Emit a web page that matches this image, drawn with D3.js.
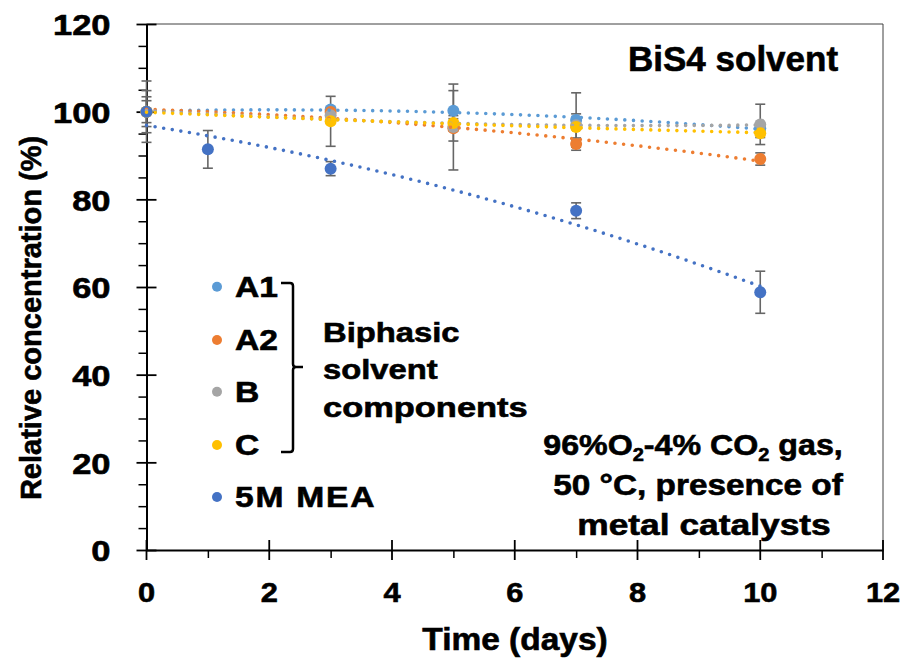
<!DOCTYPE html>
<html>
<head>
<meta charset="utf-8">
<script src="https://cdn.jsdelivr.net/npm/d3@7"></script>
<style>
  body { margin: 0; background: #fff; }
  svg { display: block; }
  text { font-family: Arial, "Liberation Sans", sans-serif; font-weight: bold; fill: #000; stroke: #000; stroke-width: 0.6px; }
</style>
</head>
<body>
<div id="chart"></div>
<script>
// measured days and relative concentration (%) per series, with error bar half-widths
const seriesNames = ['A1', 'A2', 'B', 'C', '5M MEA'];
const seriesColors = ['#5B9BD5', '#ED7D31', '#A5A5A5', '#FFC000', '#4472C4'];

const a1Days = [0, 3, 5, 7, 10];
const a1Vals = [100, 100.5, 100.2, 98.1, 96.2];
const a1Err  = [2.5, 0.5, 4.6, 6.2, 0.5];

const a2Days = [0, 3, 5, 7, 10];
const a2Vals = [100, 99.9, 96.2, 92.6, 89.2];
const a2Err  = [3.4, 1.0, 2.9, 1.4, 1.4];

const bDays = [0, 3, 5, 7, 10];
const bVals = [100, 99.2, 96.5, 96.9, 97.1];
const bErr  = [7.0, 1.5, 9.8, 1.0, 4.6];

const cDays = [0, 3, 5, 7, 10];
const cVals = [100, 97.8, 97.4, 96.5, 95.1];
const cErr  = [4.8, 5.7, 1.0, 3.0, 1.0];

const meaDays = [0, 1, 3, 7, 10];
const meaVals = [100, 91.4, 87.0, 77.4, 58.8];
const meaErr  = [0.5, 4.3, 1.6, 1.8, 4.8];

const xTicks = [0, 2, 4, 6, 8, 10, 12];
const xMinor = [1, 3, 5, 7, 9, 11];
const yTicks = [0, 20, 40, 60, 80, 100, 120];
const yMinor = d3.range(5, 120, 5).filter(v => v % 20 !== 0);

const width = 903,
      height = 658;

const xScale = d3.scaleLinear().domain([0, 12]).range([146.5, 883]);
const yScale = d3.scaleLinear().domain([0, 120]).range([550, 24]);

const svg = d3.select('#chart')
    .append('svg')
    .attr('width', width)
    .attr('height', height);

// build series table from the arrays
const series = [
    [a1Days, a1Vals, a1Err],
    [a2Days, a2Vals, a2Err],
    [bDays, bVals, bErr],
    [cDays, cVals, cErr],
    [meaDays, meaVals, meaErr]
].map((s, i) => ({
    name: seriesNames[i],
    color: seriesColors[i],
    points: s[0].map((d, j) => ({ day: d, val: s[1][j], err: s[2][j] }))
}));

// second order polynomial trendline (least squares), like the spreadsheet one
function fitQuad(xs, ys) {
    const S = [0, 0, 0, 0, 0], T = [0, 0, 0];
    xs.forEach((x, i) => {
        for (let k = 0; k < 5; k++) S[k] += Math.pow(x, k);
        for (let k = 0; k < 3; k++) T[k] += Math.pow(x, k) * ys[i];
    });
    const M = [[S[0], S[1], S[2]], [S[1], S[2], S[3]], [S[2], S[3], S[4]]];
    const det = m => m[0][0] * (m[1][1] * m[2][2] - m[1][2] * m[2][1])
                   - m[0][1] * (m[1][0] * m[2][2] - m[1][2] * m[2][0])
                   + m[0][2] * (m[1][0] * m[2][1] - m[1][1] * m[2][0]);
    const D = det(M);
    return [0, 1, 2].map(c => det(M.map((row, r) => row.map((v, k) => k === c ? T[r] : v))) / D);
}

// plot frame (top and right)
svg.append('path')
    .attr('d', `M${xScale(0)},${yScale(120)}H${xScale(12)}V${yScale(0)}`)
    .attr('fill', 'none')
    .attr('stroke', '#404040')
    .attr('stroke-width', 1);

// y axis
const yAxis = svg.append('g')
    .attr('transform', `translate(${xScale(0)},0)`)
    .call(d3.axisLeft(yScale).tickValues(yTicks).tickSize(10).tickSizeOuter(0));
yAxis.select('.domain').attr('stroke', '#000').attr('stroke-width', 2);
yAxis.selectAll('.tick line').attr('x1', 10).attr('stroke-width', 1.8);
yAxis.selectAll('.tick text')
    .attr('x', -36 / 1.15)
    .attr('dy', '0.36em')
    .attr('transform', 'scale(1.15,1)')
    .style('font-size', '30px');

svg.append('g')
    .attr('transform', `translate(${xScale(0)},0)`)
    .call(d3.axisLeft(yScale).tickValues(yMinor).tickSize(8).tickFormat(''))
    .call(g => g.select('.domain').remove())
    .selectAll('line').attr('stroke-width', 1.5);

// x axis
const xAxis = svg.append('g')
    .attr('transform', `translate(0,${yScale(0)})`)
    .call(d3.axisBottom(xScale).tickValues(xTicks).tickSize(10).tickSizeOuter(0));
xAxis.select('.domain').attr('stroke', '#000').attr('stroke-width', 2);
xAxis.selectAll('.tick line').attr('y1', -10).attr('stroke-width', 1.8);
xAxis.selectAll('.tick text')
    .attr('y', 52)
    .attr('dy', 0)
    .attr('transform', 'scale(1.1,1)')
    .attr('x', 0)
    .style('font-size', '28px');
xAxis.selectAll('.tick').attr('transform', d => `translate(${xScale(d)},0)`);

svg.append('g')
    .attr('transform', `translate(0,${yScale(0)})`)
    .call(d3.axisBottom(xScale).tickValues(xMinor).tickSize(8).tickFormat(''))
    .call(g => g.select('.domain').remove())
    .selectAll('line').attr('stroke-width', 1.5);

// error bars
series.forEach(s => {
    const g = svg.append('g').attr('stroke', '#666').attr('stroke-width', 1.6);
    s.points.forEach(p => {
        const x = xScale(p.day), y0 = yScale(p.val - p.err), y1 = yScale(p.val + p.err);
        g.append('line').attr('x1', x).attr('x2', x).attr('y1', y0).attr('y2', y1);
        g.append('line').attr('x1', x - 5).attr('x2', x + 5).attr('y1', y0).attr('y2', y0);
        g.append('line').attr('x1', x - 5).attr('x2', x + 5).attr('y1', y1).attr('y2', y1);
    });
});

// markers
series.forEach(s => {
    svg.append('g').selectAll('circle')
        .data(s.points)
        .enter().append('circle')
        .attr('cx', d => xScale(d.day))
        .attr('cy', d => yScale(d.val))
        .attr('r', 6)
        .attr('fill', s.color);
});

// dotted trendlines
const line = d3.line().x(d => xScale(d[0])).y(d => yScale(d[1]));
series.forEach(s => {
    const c = fitQuad(s.points.map(p => p.day), s.points.map(p => p.val));
    const pts = d3.range(0, 10.001, 0.1).map(x => [x, c[0] + c[1] * x + c[2] * x * x]);
    svg.append('path')
        .datum(pts)
        .attr('d', line)
        .attr('fill', 'none')
        .attr('stroke', s.color)
        .attr('stroke-width', 3.6)
        .attr('stroke-linecap', 'round')
        .attr('stroke-dasharray', '0 8.7');
});

function label(x, y, str, size, anchor, sx) {
    return svg.append('text')
        .attr('transform', `translate(${x},${y}) scale(${sx},1)`)
        .attr('text-anchor', anchor)
        .style('font-size', size + 'px')
        .text(str);
}

// axis titles and chart title
label(515, 650, 'Time (days)', 31, 'middle', 1.08);
svg.append('text')
    .attr('transform', 'translate(41,318) rotate(-90)')
    .attr('text-anchor', 'middle')
    .style('font-size', '29px')
    .text('Relative concentration (%)');
label(628, 70.5, 'BiS4 solvent', 35, 'start', 1);

// legend
const legendY = [296.7, 350, 401.7, 455, 507];
series.forEach((s, i) => {
    svg.append('circle')
        .attr('cx', 217)
        .attr('cy', legendY[i] - 10)
        .attr('r', 5)
        .attr('fill', s.color);
    label(235, legendY[i], s.name, 29, 'start', 1.16)
        .style('letter-spacing', i === 4 ? '1.5px' : '0px');
});

svg.append('path')
    .attr('d', 'M281,283H290Q293,283 293,286V364Q293,367 296,367H303M296,367Q293,367 293,370V449Q293,452 290,452H281')
    .attr('fill', 'none')
    .attr('stroke', '#000')
    .attr('stroke-width', 2.5);

const groupLines = ['Biphasic', 'solvent', 'components'];
groupLines.forEach((t, i) => label(323, 341.7 + i * 37.6, t, 28, 'start', i === 2 ? 1.23 : 1.17));

// conditions note
const note = svg.append('text')
    .attr('transform', 'translate(693,455) scale(1.11,1)')
    .attr('text-anchor', 'middle')
    .style('font-size', '29px');
note.append('tspan').text('96%O');
note.append('tspan').attr('dy', 6).style('font-size', '18px').text('2');
note.append('tspan').attr('dy', -6).text('-4% CO');
note.append('tspan').attr('dy', 6).style('font-size', '18px').text('2');
note.append('tspan').attr('dy', -6).text(' gas,');
label(698, 495, '50 °C, presence of', 29, 'middle', 1.15);
label(704, 535, 'metal catalysts', 29, 'middle', 1.22);
</script>
</body>
</html>
